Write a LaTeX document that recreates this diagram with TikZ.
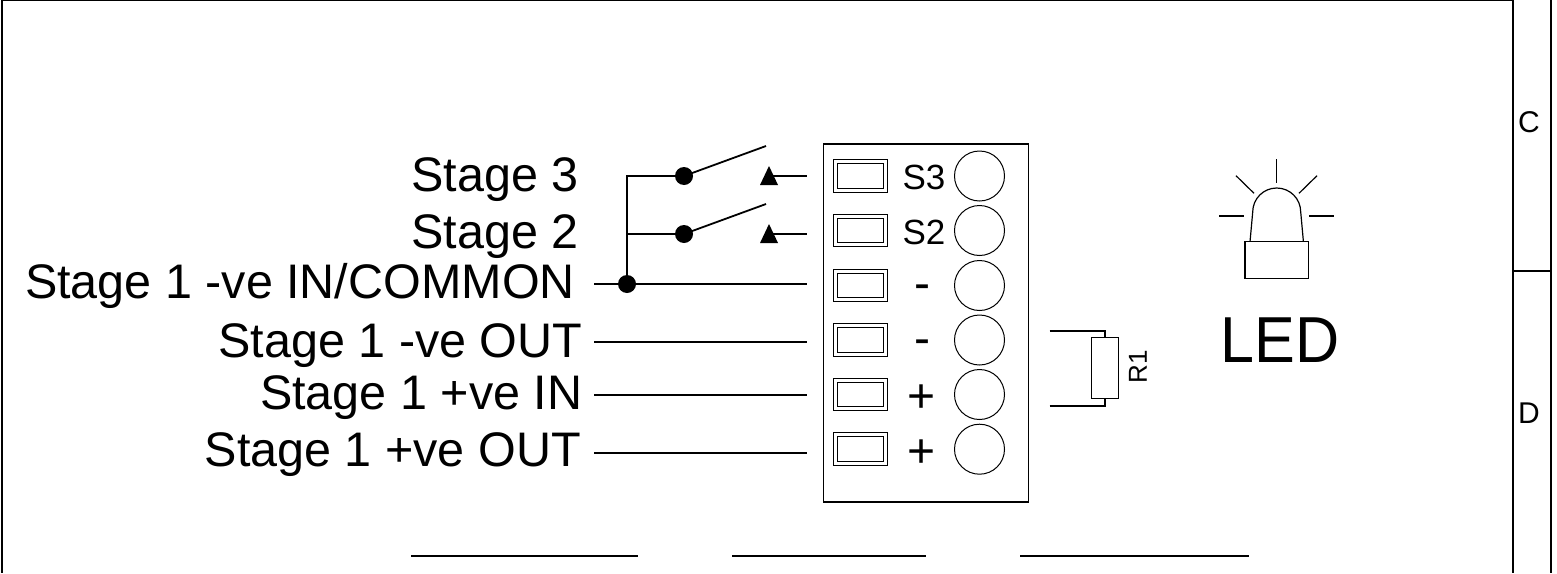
\documentclass[tikz,border=0pt]{standalone}
\usepackage{fontspec}
\setmainfont{Liberation Sans}
\usepackage{tikz}
\tikzset{
	wire/.style={line width=1.8pt},
	thin wire/.style={line width=1.2pt},
	pin/.style={circle, draw, line width=1pt, minimum size=50pt, inner sep=0pt},
	terminal/.style={draw, double, double distance=3pt, line width=1pt, minimum width=49.7pt, minimum height=28.6pt, inner sep=0pt},
	junction/.style={circle, fill=black, minimum size=18pt, inner sep=0pt},
	stage/.style={anchor=base east, font=\fontsize{48.5}{48.5}\selectfont, inner sep=0pt},
	mark label/.style={font=\fontsize{35}{35}\selectfont, inner sep=0pt},
	sign label/.style={font=\fontsize{48}{48}\selectfont, inner sep=0pt},
	side label/.style={font=\fontsize{30}{30}\selectfont, inner sep=0pt}
}
\begin{document}
\begin{tikzpicture}[x=1pt, y=-1pt]
	\useasboundingbox (0,0) rectangle (1557,573);
	% frame
	\draw[wire] (2,0) -- (2,573);
	\draw[wire] (2,0.5) -- (1513,0.5);
	\draw[wire] (1513,0) -- (1513,573);
	\draw[wire] (1551,0) -- (1551,573);
	\draw[wire] (1513,271) -- (1551,271);
	\node[side label] (colC) at (1529,122) {C};
	\node[side label] (colD) at (1529,413) {D};
	% terminal block
	\node[draw, line width=1.1pt, minimum width=205pt, minimum height=358pt, inner sep=0pt] (block) at (925.8,323) {};
	\foreach \name/\row in {a/176, b/230.5, c/285.5, d/340, e/394.5, f/449.2}{
		\node[terminal] (t\name) at (860.3,\row) {};
		\node[pin] (p\name) at (979.5,\row) {};
	}
	\node[mark label] (ma) at (924,177) {S3};
	\node[mark label] (mb) at (924,232) {S2};
	\node[sign label] (mc) at (922,292) {-};
	\node[sign label] (md) at (922,347) {-};
	\node[sign label] (me) at (921.5,399) {+};
	\node[sign label] (mf) at (921.5,453.7) {+};
	% labels
	\node[stage] (lblA) at (579,191) {Stage 3};
	\node[stage] (lblB) at (579,248) {Stage 2};
	\node[stage] (lblC) at (575,298.5) {Stage 1 -ve IN/COMMON};
	\node[stage] (lblD) at (582.5,357.5) {Stage 1 -ve OUT};
	\node[stage] (lblE) at (582.5,409) {Stage 1 +ve IN};
	\node[stage] (lblF) at (581,466.5) {Stage 1 +ve OUT};
	% wires
	\coordinate (endC) at (807,284);
	\coordinate (endD) at (807,342);
	\coordinate (endE) at (807,395);
	\coordinate (endF) at (807,453);
	\coordinate (startC) at (594,284);
	\coordinate (startD) at (594,342);
	\coordinate (startE) at (594,395);
	\coordinate (startF) at (594,453);
	\draw[wire] (startC) -- (endC);
	\draw[wire] (startD) -- (endD);
	\draw[wire] (startE) -- (endE);
	\draw[wire] (startF) -- (endF);
	\node[junction] (dotC) at (627,284) {};
	\node[junction] (dotA) at (684,176) {};
	\node[junction] (dotB) at (684,234) {};
	\draw[wire] (dotC.center) |- (dotA);
	\draw[wire] (dotC.center) |- (dotB);
	\coordinate (armA) at (766,146);
	\coordinate (armB) at (766,204);
	\draw[wire] (dotA.center) -- (armA);
	\draw[wire] (dotB.center) -- (armB);
	% contacts
	\coordinate (triA) at (769,176);
	\coordinate (triB) at (769,234);
	\coordinate (endA) at (807,176);
	\coordinate (endB) at (807,234);
	\draw[wire] (triA) -- (endA);
	\draw[wire] (triB) -- (endB);
	\fill[black] (769,166) -- (778,185) -- (760,185) -- cycle;
	\fill[black] (769,224) -- (778,243) -- (760,243) -- cycle;
	% resistor
	\node[draw, line width=1.2pt, minimum width=26.6pt, minimum height=61pt, inner sep=0pt] (res) at (1105,368.2) {};
	\coordinate (leadA) at (1049.5,331);
	\coordinate (leadB) at (1049.5,406);
	\draw[wire] (leadA) -| (res.north);
	\draw[wire] (leadB) -| (res.south);
	\node[font=\fontsize{26}{26}\selectfont, inner sep=0pt, rotate=90] (resLbl) at (1138,366.7) {R1};
	% led
	\node[draw, line width=1.2pt, minimum width=63.3pt, minimum height=36.6pt, inner sep=0pt] (ledBase) at (1276.7,260) {};
	\draw[thin wire] (1250,241.7) -- (1252.7,212) arc (180:360:24) -- (1303.4,241.7);
	\draw[thin wire] (1276.7,159) -- (1276.7,183);
	\draw[thin wire] (1236,175.7) -- (1254,193.3);
	\draw[thin wire] (1317,175.7) -- (1299,193.3);
	\draw[thin wire] (1219,216) -- (1244,216);
	\draw[thin wire] (1309,216) -- (1334,216);
	\node[font=\fontsize{65}{65}\selectfont, inner sep=0pt, transform shape, xscale=0.94] (ledLbl) at (1280,340) {LED};
	% bottom lines
	\coordinate (ulA) at (411,556);
	\coordinate (ulB) at (638,556);
	\coordinate (ulC) at (732,556);
	\coordinate (ulD) at (926,556);
	\coordinate (ulE) at (1020,556);
	\coordinate (ulF) at (1249,556);
	\draw[wire] (ulA) -- (ulB);
	\draw[wire] (ulC) -- (ulD);
	\draw[wire] (ulE) -- (ulF);
\end{tikzpicture}
\end{document}
